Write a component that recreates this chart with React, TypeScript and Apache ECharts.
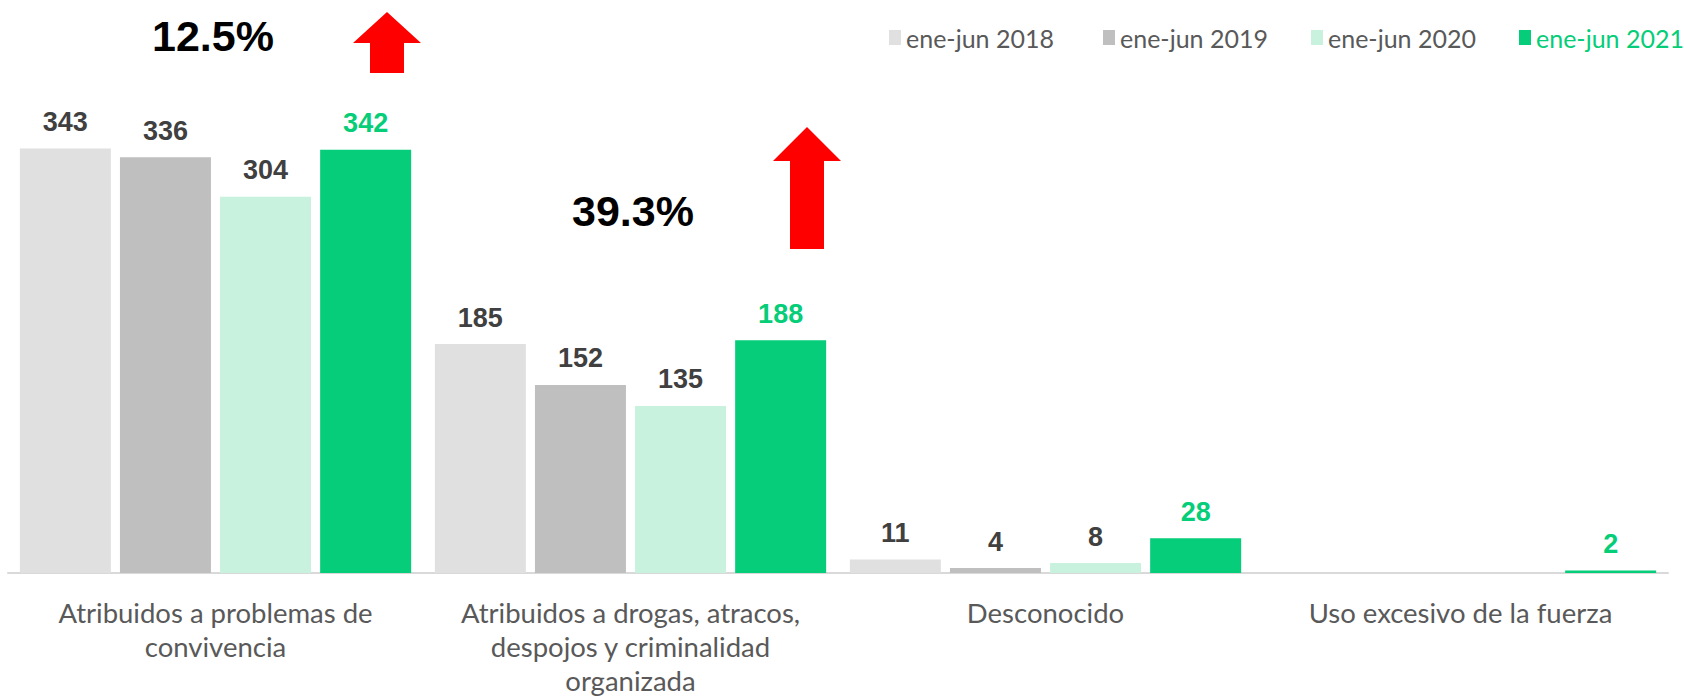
import React, { useEffect, useRef } from "react";
import * as echarts from "echarts";

const categories = [
  "Atribuidos a problemas de\nconvivencia",
  "Atribuidos a drogas, atracos,\ndespojos y criminalidad\norganizada",
  "Desconocido",
  "Uso excesivo de la fuerza",
];
const seriesNames = ["ene-jun 2018", "ene-jun 2019", "ene-jun 2020", "ene-jun 2021"];
const values2018: (number | null)[] = [343, 185, 11, null];
const values2019: (number | null)[] = [336, 152, 4, null];
const values2020: (number | null)[] = [304, 135, 8, null];
const values2021: (number | null)[] = [342, 188, 28, 2];
const barColors = ["#E0E0E0", "#BFBFBF", "#C8F2DE", "#05CD79"];
const labelColors = ["#404040", "#404040", "#404040", "#05CD78"];
const percentTexts = ["12.5%", "39.3%"];

export default function App() {
  const ref = useRef<HTMLDivElement>(null);
  useEffect(() => {
    if (!ref.current) return;
    const chart = echarts.init(ref.current, null, { renderer: "svg" });
    const allValues = [values2018, values2019, values2020, values2021];
    const labelFont = "Lato, 'Open Sans', sans-serif";
    const boldFont = "'Liberation Sans', Arial, sans-serif";
    const legendLefts = [884, 1098, 1306, 1514];
    const arrow = (x: number, tipY: number, headBaseY: number, bottomY: number) => ({
      type: "polygon",
      shape: {
        points: [
          [x, tipY],
          [x + 34, headBaseY],
          [x + 17, headBaseY],
          [x + 17, bottomY],
          [x - 17, bottomY],
          [x - 17, headBaseY],
          [x - 34, headBaseY],
        ],
      },
      style: { fill: "#FF0000" },
      silent: true,
    });
    const pctText = (text: string, x: number, y: number) => ({
      type: "text",
      x,
      y,
      style: {
        text,
        align: "center",
        verticalAlign: "middle",
        fontSize: 43,
        fontWeight: "bold",
        fontFamily: boldFont,
        fill: "#000000",
      },
      silent: true,
    });
    chart.setOption({
      animation: false,
      backgroundColor: "#FFFFFF",
      grid: { left: 8, right: 16, top: 78, bottom: 122 },
      legend: seriesNames.map((n, i) => ({
        data: [
          {
            name: n,
            textStyle: { color: i === 3 ? "#05CD78" : "#595959" },
          },
        ],
        left: legendLefts[i],
        top: 20,
        icon: "rect",
        itemWidth: 12,
        itemHeight: 15,
        itemGap: 0,
        textStyle: { fontSize: 25, fontFamily: labelFont, color: "#595959" },
        selectedMode: false,
      })),
      xAxis: {
        type: "category",
        data: categories,
        axisTick: { show: false },
        axisLine: { lineStyle: { color: "#D9D9D9", width: 2 } },
        axisLabel: {
          interval: 0,
          fontSize: 27.5,
          lineHeight: 34,
          color: "#595959",
          fontFamily: labelFont,
          margin: 22,
        },
      },
      yAxis: {
        type: "value",
        min: 0,
        max: 400,
        show: false,
        splitLine: { show: false },
      },
      series: seriesNames.map((n, i) => ({
        name: n,
        type: "bar",
        data: allValues[i],
        barWidth: 91,
        barGap: "10%",
        itemStyle: { color: barColors[i] },
        label: {
          show: true,
          position: "top",
          distance: 13,
          color: labelColors[i],
          fontSize: 27,
          fontWeight: "bold",
          fontFamily: boldFont,
        },
      })),
      graphic: [
        pctText(percentTexts[0], 213, 36),
        pctText(percentTexts[1], 633, 211),
        arrow(387, 12, 43, 73),
        arrow(807, 127, 161, 249),
      ],
    });
    return () => chart.dispose();
  }, []);
  return (
    <div
      ref={ref}
      style={{ position: "fixed", left: 0, top: 0, width: 1684, height: 697, background: "#fff" }}
    />
  );
}
